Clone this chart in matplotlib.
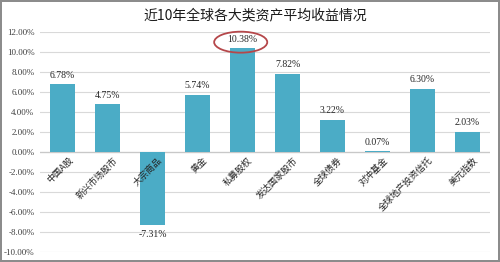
"""
Average 10-year returns of major global asset classes (bar chart).
"""
import matplotlib
matplotlib.use('Agg')
import matplotlib.pyplot as plt
from matplotlib.patches import Ellipse

categories = ["中国A股", "新兴市场股市", "大宗商品", "黄金", "私募股权",
              "发达国家股市", "全球债券", "对冲基金", "全球地产投资信托", "美元指数"]
returns = [6.78, 4.75, -7.31, 5.74, 10.38, 7.82, 3.22, 0.07, 6.30, 2.03]
yticks = [-10, -8, -6, -4, -2, 0, 2, 4, 6, 8, 10, 12]
highlight = 4  # 私募股权

title = "近10年全球各大类资产平均收益情况"
bar_color = '#4BACC6'
serif = ['Liberation Serif', 'DejaVu Serif']
cjk = ['Noto Sans CJK SC', 'DejaVu Sans']

fig = plt.figure(figsize=(5.0, 2.62), dpi=100)
fig.patch.set_edgecolor('#8c8c8c')
fig.patch.set_linewidth(1.5)
ax = fig.add_axes([0.08, 0.038, 0.90, 0.84])

x = list(range(len(categories)))
ax.bar(x, returns, width=0.57, color=bar_color, zorder=3)

ax.set_xlim(-0.5, len(categories) - 0.5)
ax.set_ylim(min(yticks), max(yticks))
ax.set_yticks(yticks)
ax.set_yticklabels([f"{v:.2f}%" for v in yticks], fontsize=6.5,
                   family=serif, color='#404040')
ax.set_xticks([])
ax.tick_params(axis='y', length=0, pad=4)
ax.grid(axis='y', color='#d9d9d9', linewidth=0.8, zorder=0)
for s in ax.spines.values():
    s.set_visible(False)
ax.axhline(0, color='#c8c8c8', linewidth=0.9, zorder=2)

# value labels
for i, v in enumerate(returns):
    if v >= 0:
        ax.text(i, v + 0.45, f"{v:.2f}%", ha='center', va='bottom',
                fontsize=7, family=serif, color='#262626', zorder=4)
    else:
        ax.text(i, v - 0.5, f"{v:.2f}%", ha='center', va='top',
                fontsize=7, family=serif, color='#262626', zorder=4)

# category labels sit on the zero line, rotated
for i, name in enumerate(categories):
    ax.text(i + 0.12, -0.35, name, rotation=45, ha='right', va='top',
            rotation_mode='anchor', fontsize=6.5, family=cjk,
            color='#262626', zorder=4)

# red ellipse around the top value
ell = Ellipse((highlight - 0.04, returns[highlight] + 0.6), width=1.18, height=2.1,
              fill=False, edgecolor='#b5474a', linewidth=1.3, clip_on=False, zorder=5)
ax.add_patch(ell)

fig.text(0.51, 0.94, title, ha='center', va='center', fontsize=10,
         family=cjk, fontweight='medium', color='#1a1a1a')

plt.savefig("out.png", dpi=100)
plt.close()
